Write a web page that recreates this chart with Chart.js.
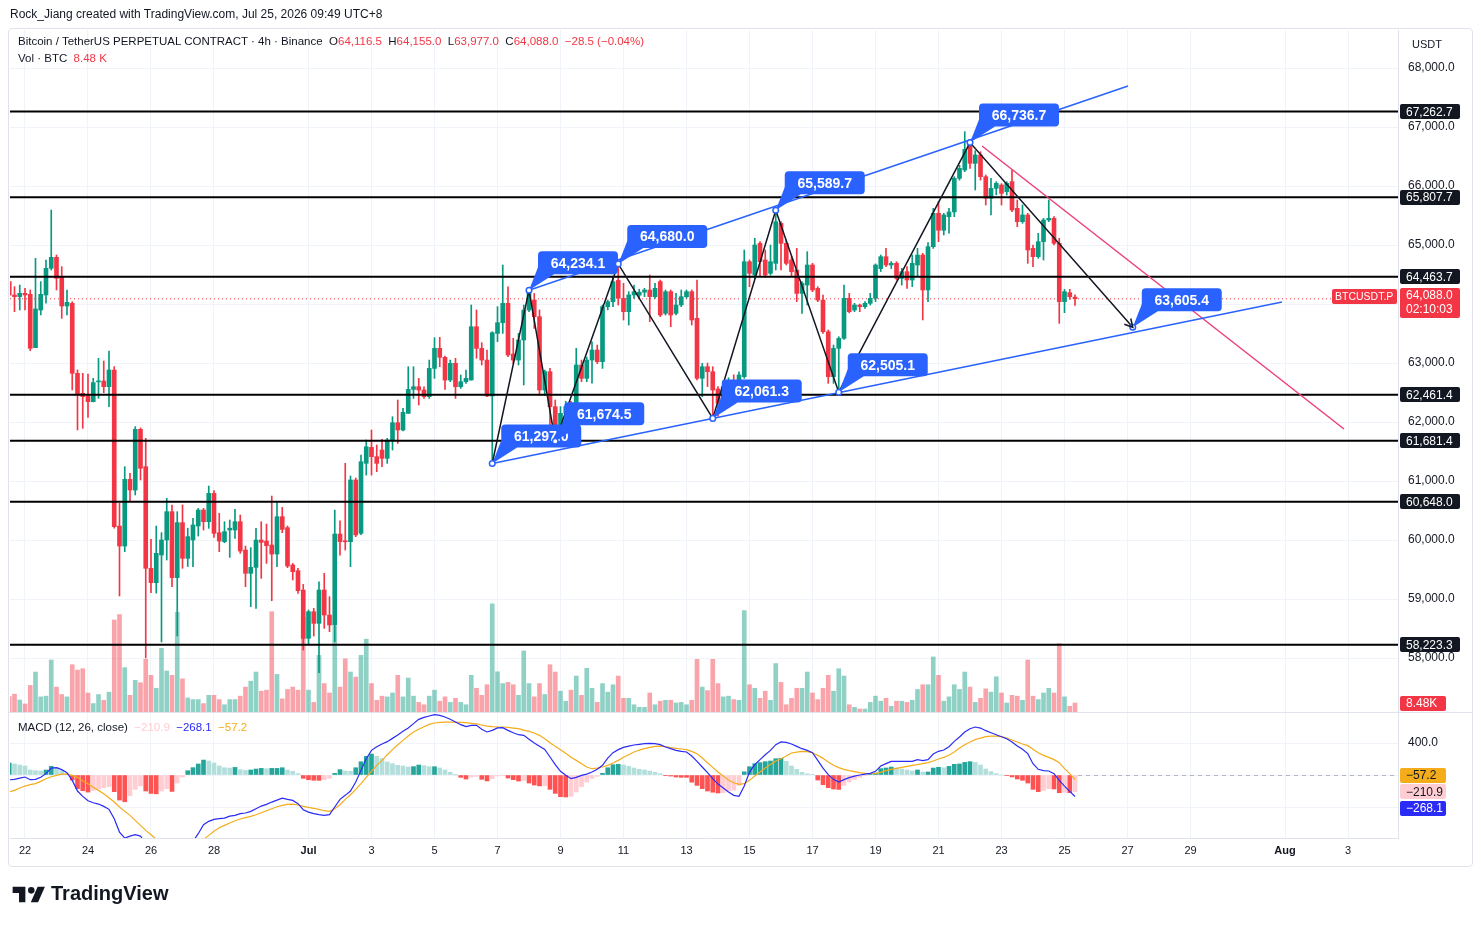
<!DOCTYPE html>
<html>
<head>
<meta charset="utf-8">
<title>BTCUSDT.P 4h</title>
<script src="https://cdn.jsdelivr.net/npm/chart.js@4.4.1/dist/chart.umd.min.js"></script>
<style>
  html, body { margin: 0; background: #ffffff; }
  body { font-family: "Liberation Sans", Arial, sans-serif; color: #131722; }
  #page { position: relative; width: 1481px; height: 925px; overflow: hidden; }
  canvas { position: absolute; left: 0; }
  #priceCanvas { top: 0; }
  #macdCanvas { top: 713px; }
  .frame { position: absolute; left: 8px; top: 28px; width: 1463px; height: 837px; border: 1px solid #e0e3eb; border-radius: 4px; pointer-events: none; }
  .txt { position: absolute; white-space: nowrap; font-size: 12px; line-height: 14px; }
  .red { color: #f23645; }
  .logo { position: absolute; left: 11px; top: 882px; display: flex; align-items: center; gap: 4px; font-size: 20px; font-weight: bold; letter-spacing: 0px; }
</style>
</head>
<body>
<div id="page">
  <canvas id="priceCanvas" width="1481" height="713"></canvas>
  <canvas id="macdCanvas" width="1481" height="212"></canvas>
  <div class="frame"></div>

  <div class="txt" style="left:10px;top:7px;">Rock_Jiang created with TradingView.com, Jul 25, 2026 09:49 UTC+8</div>
  <div class="txt" style="left:18px;top:34px;font-size:11.5px;">Bitcoin / TetherUS PERPETUAL CONTRACT · 4h · Binance&nbsp; O<span class="red">64,116.5</span>&nbsp; H<span class="red">64,155.0</span>&nbsp; L<span class="red">63,977.0</span>&nbsp; C<span class="red">64,088.0</span>&nbsp; <span class="red">−28.5 (−0.04%)</span></div>
  <div class="txt" style="left:18px;top:51px;font-size:11.5px;">Vol · BTC&nbsp; <span class="red">8.48 K</span></div>
  <div class="txt" style="left:1412px;top:37px;font-size:11px;">USDT</div>
  <div class="txt" style="left:18px;top:720px;font-size:11.5px;">MACD (12, 26, close)&nbsp; <span style="color:#ffcdd2">−210.9</span>&nbsp; <span style="color:#2b2bf8">−268.1</span>&nbsp; <span style="color:#f5ac1b">−57.2</span></div>

  <div class="logo">
    <svg width="36" height="20" viewBox="0 0 36 22"><path d="M14 20H7V10H0V3h14v17zM28 20h-8l7.5-17h8L28 20z" fill="#131722"/><circle cx="20.5" cy="7" r="3.6" fill="#131722"/></svg>
    <span>TradingView</span>
  </div>
</div>

<script>
// time axis is in days counted from May 31 (so Jun 22 = 22, Jul 1 = 31, Aug 1 = 62)
const firstCandleDay = 21.5;      // Jun 21 12:00 UTC+8
const candleStep = 4 / 24;        // 4h candles

// one row per day, six 4h candles per row
const opens = [
  64380, 64153, 64125,
  64181, 64164, 63260, 63898, 64153, 64605,
  64791, 64452, 63966, 64012, 62825, 62486,
  62441, 62345, 62680, 62695, 62599, 62882,
  60237, 59898, 61028, 60847, 61876, 61243,
  59520, 59277, 59746, 60000, 60480, 59362,
  60294, 59689, 60000, 60237, 60508, 60310,
  60790, 60124, 59971, 60169, 60169, 60310,
  59830, 59435, 59536, 60000, 59982, 59915,
  59762, 60395, 60209, 59576, 59480, 59152,
  58333, 58785, 58587, 59152, 58728, 58559,
  60101, 59982, 59971, 61017, 60113, 61300,
  61570, 61412, 61525, 61384, 61695, 61988,
  61864, 62146, 62553, 62598, 62542, 62429,
  62909, 63248, 63096, 62711, 62994, 62598,
  62683, 62711, 63615, 63248, 63050, 62440,
  63502, 63683, 64011, 63152, 63050, 63390,
  63898, 64067, 63785, 62542, 62853, 62260,
  61779, 62147, 62260, 61950, 62966, 62740,
  63050, 63220, 63022, 63955, 64039, 64400,
  64096, 63870, 64153, 64150, 64200, 64237,
  64124, 64380, 63841, 64209, 63841, 63983,
  64124, 64209, 63757, 62740, 62937, 62853,
  62560, 62320, 62600, 62700, 62600, 62768,
  64717, 64491, 65028, 64746, 64520, 64689,
  65367, 65028, 64746, 64576, 64180, 64322,
  64661, 64265, 64067, 63530, 62768, 63248,
  63418, 64096, 63898, 63983, 63955, 64011,
  64096, 64600, 64802, 64661, 64690, 64435,
  64548, 64407, 64661, 64830, 64238, 64972,
  65537, 65250, 65480, 65560, 66130, 66271,
  66695, 66384, 66526, 66158, 65791, 65960,
  66017, 65904, 66074, 65622, 65396, 65509,
  64943, 64802, 65056, 65424, 65452, 65028,
  64040, 64192, 64116.5
];
const highs = [
  64450, 64294, 64322,
  64266, 64238, 64774, 64379, 64746, 65593,
  64831, 64633, 64238, 64040, 62882, 62825,
  62814, 62740, 63079, 63034, 63204, 62938,
  60621, 61243, 61130, 61921, 61900, 61723,
  60011, 60237, 60124, 60706, 60593, 60480,
  60593, 60200, 60367, 60536, 60536, 60915,
  60836, 60452, 60310, 60339, 60519, 60423,
  59898, 59870, 60198, 60310, 60271, 60745,
  60632, 60553, 60237, 59604, 59520, 59248,
  58813, 58841, 59293, 59434, 59039, 60508,
  60327, 61299, 61085, 61050, 61440, 61695,
  61864, 61610, 61706, 61723, 62090, 62373,
  62231, 62937, 62937, 62740, 62598, 63050,
  63429, 63435, 63118, 63050, 63079, 62796,
  62881, 63983, 63898, 63344, 63220, 63530,
  63955, 64661, 64293, 63418, 63502, 63983,
  64234.1, 64180, 63900, 62880, 62909, 62373,
  62260, 62350, 62350, 63248, 63050, 63100,
  63360, 63305, 63983, 64068, 64463, 64680,
  64350, 64209, 64322, 64250, 64265, 64491,
  64350, 64407, 64237, 64237, 64180, 64237,
  64237, 64237, 64406, 62994, 63000, 62937,
  62600, 62700, 62750, 62800, 62850, 64915,
  64746, 65113, 65056, 64915, 64999, 65589.7,
  65395, 65085, 64802, 64943, 64378, 64887,
  64689, 64293, 64152, 63560, 63305, 63446,
  64322, 64180, 64011, 64000, 64040, 64180,
  64680, 64830, 64943, 64720, 64718, 64605,
  64633, 64830, 64943, 64859, 65040, 65622,
  65735, 65537, 65620, 66158, 66350, 66921,
  66736.7, 66600, 66582, 66187, 66130, 66073,
  66040, 66073, 66271, 65763, 65678, 65537,
  64999, 65198, 65452, 65763, 65480, 65113,
  64249, 64249, 64155
];
const lows = [
  63950, 63870, 63898,
  63898, 63209, 63260, 63814, 64012, 64576,
  64238, 63757, 63814, 62543, 61865, 61893,
  62079, 62340, 62401, 62497, 62260, 60200,
  59051, 59802, 60650, 60763, 61017, 58000,
  59107, 59100, 58271, 59661, 59209, 58373,
  59520, 59550, 59548, 60067, 60169, 60198,
  60045, 59802, 59954, 59706, 60028, 59773,
  59209, 58870, 58841, 59350, 59604, 58971,
  59548, 60124, 59530, 59322, 59096, 58135,
  58220, 58372, 57750, 58502, 58446, 58276,
  59745, 59830, 59548, 60056, 60090, 61100,
  61100, 61158, 61243, 61299, 61525, 61638,
  61850, 62146, 62400, 62288, 62400, 62400,
  62740, 62937, 62553, 62683, 62400, 62570,
  62655, 62711, 63079, 62966, 62429, 61297.0,
  63361, 63502, 63107, 62994, 62966, 62627,
  63870, 63587, 62450, 62450, 61900, 61674.5,
  61700, 61950, 61850, 61900, 62683, 62683,
  62660, 62990, 62909, 63900, 63955, 63983,
  63729, 63643, 64096, 64096, 64124, 63700,
  64096, 63785, 63813, 63615, 63813, 63955,
  64096, 63643, 62712, 62429, 62600, 62061.3,
  62100, 62250, 62500, 62450, 62550, 62740,
  64293, 64435, 64463, 64452, 64491, 64576,
  64576, 64661, 64463, 64040, 63841, 63983,
  64209, 64039, 63502, 62655, 62655, 62505.1,
  63400, 63850, 63870, 63870, 63926, 63983,
  64040, 64550, 64632, 64600, 64407, 64322,
  64266, 64294, 64463, 63729, 64040, 64943,
  65056, 65170, 65200, 65480, 66100, 66243,
  66300, 65932, 66100, 65678, 65509, 65850,
  65678, 65847, 65565, 65311, 65367, 64689,
  64633, 64774, 64746, 65396, 65000, 63672,
  63853, 64080, 63977
];
const closes = [
  64150, 64125, 64181,
  64153, 63249, 63916, 64164, 64605, 64791,
  64435, 63966, 64028, 62825, 62458, 62430,
  62345, 62667, 62690, 62599, 62882, 60226,
  59898, 61028, 60847, 61876, 61215, 59520,
  59277, 59774, 60000, 60480, 59362, 60294,
  59689, 60057, 60254, 60508, 60310, 60790,
  60112, 59982, 60141, 60200, 60310, 59813,
  59435, 59536, 60000, 59960, 59904, 59762,
  60395, 60180, 59559, 59463, 59141, 58333,
  58785, 58587, 59152, 58728, 58559, 60101,
  59971, 59970, 61017, 60085, 61327, 61580,
  61412, 61299, 61384, 61695, 61988, 61864,
  62163, 62553, 62598, 62542, 62429, 62909,
  63248, 63096, 62711, 62994, 62598, 62683,
  62740, 63615, 63248, 63050, 62440, 63514,
  63683, 64011, 63135, 63050, 63390, 63898,
  64209, 63785, 62542, 62853, 62260, 61779,
  62147, 62260, 61950, 62966, 62740, 63050,
  63220, 63022, 63955, 64039, 64378, 64096,
  63870, 64153, 64209, 64200, 64237, 64124,
  64266, 63813, 64209, 63813, 63983, 64124,
  64209, 63729, 62740, 62937, 62853, 62542,
  62320, 62600, 62700, 62600, 62797, 64717,
  64520, 65000, 64717, 64491, 64717, 65395,
  65028, 64689, 64548, 64180, 64350, 64661,
  64237, 64067, 63530, 62768, 63248, 63418,
  64096, 63870, 63983, 63955, 64011, 64096,
  64661, 64802, 64661, 64690, 64435, 64548,
  64407, 64690, 64830, 64238, 64972, 65537,
  65250, 65509, 65560, 66130, 66300, 66622,
  66384, 66526, 66158, 65791, 65960, 66045,
  65876, 66045, 65593, 65396, 65509, 64915,
  64802, 65056, 65424, 65452, 65028, 64040,
  64209, 64124, 64088.0
];
// volume in thousands of BTC
const volumes = [
  14, 16, 11,
  7.7, 23.4, 34.8, 13.7, 14.3, 45,
  22, 15.7, 13.7, 41, 36.5, 37.6,
  17, 8, 15.7, 10.8, 17.7, 79,
  83.6, 38.5, 15, 27.7, 25.7, 45.6,
  32, 21, 55, 35.7, 32, 85.6,
  29, 12.8, 11.4, 11.4, 8, 15,
  15, 11.4, 7, 11.4, 11.4, 14.3,
  22, 27, 34.8, 18.5, 19.4, 86,
  32.8, 12, 20, 22, 19.4, 81,
  19.4, 9, 49, 25, 17, 73.6,
  22, 46, 34.8, 30.5, 49, 62.7,
  25, 10.8, 14.3, 13.7, 17, 32,
  13.7, 29.7, 14.3, 9, 7, 14.3,
  19.4, 10, 13.7, 9, 12.5, 9,
  7, 32, 21, 15, 24, 92.7,
  35, 25, 26, 24, 15, 52.7,
  25, 13.7, 25, 15.7, 41, 34.8,
  18.5, 10, 19.4, 31.4, 15, 38,
  21, 9, 25, 17.7, 24, 31.4,
  12.5, 12.5, 7, 4.8, 4.8, 17,
  7, 10, 10.8, 10.8, 8.5, 9,
  7, 10.8, 45.6, 22, 19, 45.6,
  25, 13.7, 14.3, 11.4, 10.8, 87,
  24, 21, 12.5, 18.5, 10.8, 42,
  26, 7, 12.5, 21, 21, 34.8,
  17, 11.4, 21, 32, 18.5, 37.6,
  31.4, 7, 4.8, 3.4, 3.4, 9,
  14.3, 10, 12.5, 5.7, 10, 10,
  9, 10.8, 20, 24, 24, 47.6,
  32, 10, 13.7, 24, 20, 34.8,
  22, 9, 12.5, 20.5, 17.7, 30.8,
  17, 8.5, 15, 14.3, 10.8, 45,
  14.3, 11.4, 17, 21, 17, 59,
  13.7, 5.7, 8.48
];

// MACD (12, 26, close)
const macdLine = [
  -60, -54, -38,
  -25, -58, -54, -29, 17, 87,
  92, 67, 29, -67, -200, -267,
  -321, -346, -363, -392, -429, -546,
  -713, -788, -763, -746, -763, -858,
  -921, -983, -1025, -1046, -1046, -1025,
  -963, -900, -829, -733, -621, -579,
  -554, -546, -538, -513, -504, -483,
  -475, -454, -421, -388, -367, -338,
  -313, -288, -304, -317, -358, -433,
  -463, -483, -496, -504, -496, -400,
  -304, -254, -200, -88, 58, 204,
  308, 354, 388, 417, 458, 500,
  546, 588, 642, 696, 721, 737,
  754, 746, 725, 696, 663, 629,
  604, 621, 621, 571, 538, 558,
  588, 592, 558, 529, 504, 496,
  446, 400, 360, 320, 225, 129,
  46, -4, -46, -29, -4, 12,
  37, 71, 121, 212, 279, 317,
  346, 362, 375, 383, 392, 396,
  392, 379, 350, 329, 308, 296,
  288, 237, 171, 100, 29, -46,
  -113, -163, -213, -254, -267, -138,
  37, 129, 192, 254, 308, 379,
  413, 408, 388, 358, 329, 308,
  279, 183, 87, 4, -54, -88,
  -58, -33, -13, 0, 12, 21,
  46, 113, 142, 171, 171, 171,
  171, 171, 192, 179, 192, 262,
  296, 312, 354, 421, 475, 537,
  579, 600, 587, 554, 529, 504,
  479, 454, 413, 362, 321, 267,
  142, 71, 54, 50, 17, -67,
  -138, -204, -268.1
];
const signalLine = [
  -210, -192, -163,
  -138, -121, -108, -79, -46, -21,
  -4, 12, 12, -4, -29, -71,
  -108, -154, -192, -233, -283, -338,
  -400, -454, -504, -567, -629, -692,
  -746, -804, -858, -900, -929, -954,
  -963, -954, -921, -871, -808, -754,
  -704, -658, -629, -600, -571, -550,
  -533, -517, -496, -471, -446, -421,
  -396, -379, -367, -363, -375, -392,
  -404, -417, -429, -446, -454, -421,
  -371, -304, -246, -179, -108, -29,
  46, 121, 183, 254, 317, 379,
  433, 488, 537, 571, 604, 633,
  650, 658, 662, 662, 662, 658,
  654, 646, 638, 625, 612, 604,
  600, 600, 596, 587, 579, 562,
  546, 525, 496, 454, 404, 358,
  317, 271, 221, 183, 142, 100,
  79, 87, 100, 121, 150, 183,
  221, 254, 288, 312, 329, 346,
  358, 362, 354, 342, 333, 325,
  317, 296, 267, 212, 154, 96,
  37, -13, -63, -96, -117, -108,
  -67, -13, 37, 87, 133, 175,
  204, 237, 275, 287, 296, 292,
  275, 246, 208, 162, 121, 92,
  71, 54, 42, 29, 21, 17,
  21, 33, 54, 71, 83, 96,
  108, 121, 129, 142, 154, 175,
  200, 221, 246, 287, 337, 379,
  412, 442, 462, 479, 487, 487,
  479, 462, 437, 412, 387, 367,
  321, 279, 246, 221, 192, 154,
  79, 17, -57.2
];
const macdHist = [
  150, 138, 125,
  113, 63, 54, 50, 63, 108,
  96, 55, 17, -63, -171, -196,
  -213, -192, -171, -159, -146, -208,
  -313, -334, -259, -179, -134, -200,
  -230, -235, -200, -170, -205, -100,
  -25, 54, 92, 138, 187, 175,
  150, 112, 91, 87, 95, 67,
  58, 63, 75, 83, 79, 83,
  83, 91, 63, 46, 17, -41,
  -59, -66, -67, -58, -42, 21,
  67, 50, 46, 91, 166, 233,
  262, 233, 205, 163, 141, 121,
  113, 100, 105, 125, 117, 104,
  104, 88, 63, 34, 1, -29,
  -50, -25, -17, -54, -74, -46,
  -12, -8, -38, -58, -75, -66,
  -100, -125, -136, -134, -179, -229,
  -271, -275, -267, -212, -146, -88,
  -42, -16, 21, 91, 129, 134,
  125, 108, 87, 71, 63, 50,
  34, 17, -4, -13, -25, -29,
  -29, -90, -130, -170, -200, -215,
  -225, -220, -200, -190, -130, 40,
  104, 142, 155, 167, 175, 204,
  209, 171, 113, 71, 33, 16,
  4, -63, -121, -158, -175, -180,
  -129, -87, -55, -29, -9, 4,
  25, 80, 88, 100, 88, 75,
  63, 50, 63, 37, 38, 87,
  96, 91, 108, 134, 138, 158,
  167, 158, 125, 75, 42, 17,
  0, -8, -24, -50, -66, -100,
  -179, -208, -192, -171, -175, -221,
  -217, -221, -210.9
];

// drawings
const levelPrices = [67262.7, 65807.7, 64463.7, 62461.4, 61681.4, 60648.0, 58223.3];
const swingDays = [36.833, 38.0, 38.833, 40.833, 43.833, 45.833, 47.833, 52.0, 57.167];
const swingPrices = [61297.0, 64234.1, 61674.5, 64680.0, 62061.3, 65589.7, 62505.1, 66736.7, 63605.4];
const upperTrendDays = [38.0, 57.016];
const upperTrendPrices = [64234.1, 67695];
const lowerTrendDays = [36.833, 61.905];
const lowerTrendPrices = [61297.0, 64034];
const pinkTrendDays = [52.381, 63.873];
const pinkTrendPrices = [66678, 61881];
const lastPrice = 64088.0;
const lastVolume = 8.48;
const countdown = '02:10:03';

// axes
const xMin = 21.524, xMax = 65.587;
const tickDays = [22, 24, 26, 28, 31, 33, 35, 37, 39, 41, 43, 45, 47, 49, 51, 53, 55, 57, 59, 62, 64];
const tickLabels = ['22', '24', '26', '28', 'Jul', '3', '5', '7', '9', '11', '13', '15', '17', '19', '21', '23', '25', '27', '29', 'Aug', '3'];
const monthTicks = [31, 62];
const priceTicks = [58000, 59000, 60000, 61000, 62000, 63000, 64000, 65000, 66000, 67000, 68000];
const macdTicks = [400, 0, -400];

const upColor = '#089981', downColor = '#f23645';
const upVol = 'rgba(8,153,129,0.45)', downVol = 'rgba(242,54,69,0.45)';
const gridColor = '#f0f3fa', lineColor = '#e0e3eb', textColor = '#131722';
const blue = '#2962ff', macdBlue = '#2b2bf8', signalOrange = '#f5ac1b';
const FONT = '"Liberation Sans", Arial, sans-serif';

Chart.defaults.font.family = FONT;
Chart.defaults.font.size = 11;
Chart.defaults.color = textColor;

const fmt = v => Number(v).toLocaleString('en-US', { minimumFractionDigits: 1, maximumFractionDigits: 1 });
const candleDays = opens.map((_, i) => firstCandleDay + i * candleStep);
const isUp = closes.map((c, i) => c >= opens[i]);
const pts = (days, vals) => days.map((d, i) => ({ x: d, y: vals[i] }));
const flat = v => [{ x: xMin, y: v }, { x: xMax, y: v }];

// keep the pane edges exactly where the layout padding puts them
function fixRightScale(s) {
    s.width = 74;
    s.paddingTop = 0;
    s.paddingBottom = 0;
}

function roundBox(ctx, x, y, w, h, r) {
    ctx.beginPath();
    ctx.moveTo(x + r, y);
    ctx.arcTo(x + w, y, x + w, y + h, r);
    ctx.arcTo(x + w, y + h, x, y + h, r);
    ctx.arcTo(x, y + h, x, y, r);
    ctx.arcTo(x, y, x + w, y, r);
    ctx.closePath();
}

function axisTag(ctx, x, yc, w, h, bg, fg, text) {
    ctx.fillStyle = bg;
    roundBox(ctx, x, Math.round(yc - h / 2), w, h, 2);
    ctx.fill();
    ctx.fillStyle = fg;
    ctx.textAlign = 'left';
    ctx.textBaseline = 'middle';
    ctx.fillText(text, x + 6, Math.round(yc) + 1);
}

const priceDrawings = {
    id: 'priceDrawings',
    afterDatasetsDraw(chart) {
        const { ctx, scales: { x, y } } = chart;
        ctx.save();
        // price callouts
        ctx.font = 'bold 14px ' + FONT;
        swingDays.forEach((d, i) => {
            const ax = x.getPixelForValue(d), ay = y.getPixelForValue(swingPrices[i]);
            const left = ax + 9, top = ay - 39, w = 80, h = 23;
            ctx.fillStyle = blue;
            ctx.beginPath();
            ctx.moveTo(ax, ay);
            ctx.lineTo(left, top + h - 7);
            ctx.lineTo(left + 16, top + h);
            ctx.closePath();
            ctx.fill();
            roundBox(ctx, left, top, w, h, 4);
            ctx.fill();
            ctx.fillStyle = '#ffffff';
            ctx.textAlign = 'center';
            ctx.textBaseline = 'middle';
            ctx.fillText(fmt(swingPrices[i]), left + w / 2, top + h / 2 + 1);
        });
        // anchor dots
        swingDays.forEach((d, i) => {
            ctx.beginPath();
            ctx.arc(x.getPixelForValue(d), y.getPixelForValue(swingPrices[i]), 2.8, 0, Math.PI * 2);
            ctx.fillStyle = '#ffffff';
            ctx.fill();
            ctx.lineWidth = 1.5;
            ctx.strokeStyle = blue;
            ctx.stroke();
        });
        // arrow head at the end of the zigzag
        const n = swingDays.length;
        const x1 = x.getPixelForValue(swingDays[n - 2]), y1 = y.getPixelForValue(swingPrices[n - 2]);
        const x2 = x.getPixelForValue(swingDays[n - 1]), y2 = y.getPixelForValue(swingPrices[n - 1]);
        const ang = Math.atan2(y2 - y1, x2 - x1);
        ctx.strokeStyle = '#131722';
        ctx.lineWidth = 1.5;
        ctx.beginPath();
        ctx.moveTo(x2 - 9 * Math.cos(ang - 0.5), y2 - 9 * Math.sin(ang - 0.5));
        ctx.lineTo(x2, y2);
        ctx.lineTo(x2 - 9 * Math.cos(ang + 0.5), y2 - 9 * Math.sin(ang + 0.5));
        ctx.stroke();
        ctx.restore();
    },
    afterDraw(chart) {
        const { ctx, chartArea, scales: { y, vol } } = chart;
        const tagX = y.left + 2;
        ctx.save();
        ctx.font = '12px ' + FONT;
        levelPrices.forEach(p => axisTag(ctx, tagX, y.getPixelForValue(p), 60, 15, '#131722', '#ffffff', fmt(p)));
        axisTag(ctx, tagX, vol.getPixelForValue(lastVolume), 46, 15, downColor, '#ffffff', lastVolume.toFixed(2) + 'K');

        // last price tag with countdown
        const py = Math.round(y.getPixelForValue(lastPrice));
        ctx.fillStyle = downColor;
        roundBox(ctx, tagX, py - 11, 60, 30, 2);
        ctx.fill();
        ctx.fillStyle = '#ffffff';
        ctx.textAlign = 'left';
        ctx.textBaseline = 'middle';
        ctx.fillText(fmt(lastPrice), tagX + 6, py - 3);
        ctx.fillText(countdown, tagX + 6, py + 11);

        // symbol tag left of the price scale
        ctx.font = '10.5px ' + FONT;
        const sym = 'BTCUSDT.P';
        const sw = Math.ceil(ctx.measureText(sym).width) + 6;
        ctx.fillStyle = downColor;
        roundBox(ctx, chartArea.right - 1 - sw, py - 10, sw, 15, 2);
        ctx.fill();
        ctx.fillStyle = '#ffffff';
        ctx.fillText(sym, chartArea.right - 1 - sw + 3, py - 2);

        // pane separator
        ctx.strokeStyle = lineColor;
        ctx.lineWidth = 1;
        ctx.beginPath();
        ctx.moveTo(8, chartArea.bottom - 0.5);
        ctx.lineTo(1472, chartArea.bottom - 0.5);
        ctx.stroke();
        ctx.restore();
    }
};

const macdTags = {
    id: 'macdTags',
    afterDraw(chart) {
        const { ctx, chartArea, scales: { x, macd } } = chart;
        const tagX = macd.left + 2;
        const n = macdHist.length;
        ctx.save();
        // dashed line from the last bar to the scale
        ctx.strokeStyle = '#b2b5be';
        ctx.setLineDash([4, 4]);
        ctx.lineWidth = 1;
        ctx.beginPath();
        const zy = Math.round(macd.getPixelForValue(0)) + 0.5;
        ctx.moveTo(x.getPixelForValue(candleDays[n - 1]) + 3, zy);
        ctx.lineTo(chartArea.right, zy);
        ctx.stroke();
        ctx.setLineDash([]);

        ctx.font = '12px ' + FONT;
        const yh = macd.getPixelForValue(macdHist[n - 1]);
        const ys = Math.min(macd.getPixelForValue(signalLine[n - 1]), yh - 16.5);
        const ym = Math.max(macd.getPixelForValue(macdLine[n - 1]), yh + 16.5);
        axisTag(ctx, tagX, ys, 46, 15, signalOrange, '#131722', '−' + fmt(-signalLine[n - 1]));
        axisTag(ctx, tagX, yh, 46, 15, '#ffcdd2', '#131722', '−' + fmt(-macdHist[n - 1]));
        axisTag(ctx, tagX, ym, 46, 15, macdBlue, '#ffffff', '−' + fmt(-macdLine[n - 1]));
        ctx.restore();
    }
};

const xScaleBase = {
    type: 'linear',
    min: xMin,
    max: xMax,
    offset: false,
    afterBuildTicks: s => { s.ticks = tickDays.map(v => ({ value: v })); },
    grid: { color: gridColor, drawTicks: false, offset: false },
};

new Chart(document.getElementById('priceCanvas'), {
    type: 'bar',
    data: {
        datasets: [
            {
                label: 'Volume',
                yAxisID: 'vol',
                data: pts(candleDays, volumes),
                backgroundColor: isUp.map(u => u ? upVol : downVol),
                barThickness: 4,
                grouped: false,
                order: 10
            },
            {
                type: 'line',
                label: 'Last price',
                data: flat(lastPrice),
                borderColor: downColor,
                borderWidth: 1,
                borderDash: [1, 3],
                pointRadius: 0,
                order: 9
            },
            {
                label: 'Wicks',
                data: candleDays.map((d, i) => ({ x: d, y: [lows[i], highs[i]] })),
                backgroundColor: isUp.map(u => u ? upColor : downColor),
                barThickness: 1,
                grouped: false,
                order: 7
            },
            {
                label: 'Bodies',
                data: candleDays.map((d, i) => ({ x: d, y: [opens[i], closes[i]] })),
                backgroundColor: isUp.map(u => u ? upColor : downColor),
                barThickness: 4,
                minBarLength: 1,
                grouped: false,
                order: 6
            },
            ...levelPrices.map(p => ({
                type: 'line',
                label: 'Level ' + p,
                data: flat(p),
                borderColor: '#000000',
                borderWidth: 2,
                pointRadius: 0,
                order: 4
            })),
            {
                type: 'line',
                label: 'Upper trend',
                data: pts(upperTrendDays, upperTrendPrices),
                borderColor: blue,
                borderWidth: 1.5,
                pointRadius: 0,
                order: 3
            },
            {
                type: 'line',
                label: 'Lower trend',
                data: pts(lowerTrendDays, lowerTrendPrices),
                borderColor: blue,
                borderWidth: 1.5,
                pointRadius: 0,
                order: 3
            },
            {
                type: 'line',
                label: 'Down trend',
                data: pts(pinkTrendDays, pinkTrendPrices),
                borderColor: '#ec407a',
                borderWidth: 1.5,
                pointRadius: 0,
                order: 3
            },
            {
                type: 'line',
                label: 'Swings',
                data: pts(swingDays, swingPrices),
                borderColor: '#131722',
                borderWidth: 1.5,
                pointRadius: 0,
                order: 2
            }
        ]
    },
    options: {
        responsive: false,
        animation: false,
        events: [],
        layout: { padding: { left: 10, top: 30, right: 9, bottom: 0 } },
        plugins: { legend: { display: false }, tooltip: { enabled: false } },
        scales: {
            x: {
                ...xScaleBase,
                afterFit: s => { s.height = 0; s.paddingLeft = 0; s.paddingRight = 0; },
                ticks: { display: false },
                border: { display: false }
            },
            y: {
                position: 'right',
                min: 57067.8,
                max: 68644.1,
                afterBuildTicks: s => { s.ticks = priceTicks.map(v => ({ value: v })); },
                afterFit: fixRightScale,
                ticks: { padding: 10, font: { size: 12 }, callback: v => fmt(v) },
                grid: { color: gridColor, drawTicks: false },
                border: { color: lineColor }
            },
            vol: {
                axis: 'y',
                position: 'left',
                display: false,
                min: 0,
                max: 580
            }
        }
    },
    plugins: [priceDrawings]
});

new Chart(document.getElementById('macdCanvas'), {
    type: 'bar',
    data: {
        datasets: [
            {
                type: 'line',
                label: 'MACD',
                yAxisID: 'macd',
                data: pts(candleDays, macdLine),
                borderColor: macdBlue,
                borderWidth: 1.2,
                pointRadius: 0,
                order: 1
            },
            {
                type: 'line',
                label: 'Signal',
                yAxisID: 'macd',
                data: pts(candleDays, signalLine),
                borderColor: signalOrange,
                borderWidth: 1.2,
                pointRadius: 0,
                order: 2
            },
            {
                label: 'Histogram',
                yAxisID: 'macd',
                data: pts(candleDays, macdHist),
                backgroundColor: macdHist.map((v, i) => {
                    const prev = i > 0 ? macdHist[i - 1] : v;
                    if (v >= 0) return v >= prev ? '#26a69a' : '#b2dfdb';
                    return v <= prev ? '#ff5252' : '#ffcdd2';
                }),
                barThickness: 4,
                grouped: false,
                order: 3
            }
        ]
    },
    options: {
        responsive: false,
        animation: false,
        events: [],
        layout: { padding: { left: 10, top: 0, right: 9, bottom: 59 } },
        plugins: { legend: { display: false }, tooltip: { enabled: false } },
        scales: {
            x: {
                ...xScaleBase,
                afterFit: s => { s.height = 28; },
                ticks: {
                    padding: 6,
                    autoSkip: false,
                    maxRotation: 0,
                    callback: (v, i) => tickLabels[i],
                    font: c => ({ size: 11, weight: (c.tick && monthTicks.includes(c.tick.value)) ? 'bold' : 'normal' })
                },
                border: { color: lineColor }
            },
            macd: {
                axis: 'y',
                position: 'right',
                min: -787,
                max: 775,
                afterBuildTicks: s => { s.ticks = macdTicks.map(v => ({ value: v })); },
                afterFit: fixRightScale,
                ticks: { padding: 10, font: { size: 12 }, callback: v => v === 400 ? '400.0' : '' },
                grid: { color: gridColor, drawTicks: false },
                border: { color: lineColor }
            }
        }
    },
    plugins: [macdTags]
});
</script>
</body>
</html>
